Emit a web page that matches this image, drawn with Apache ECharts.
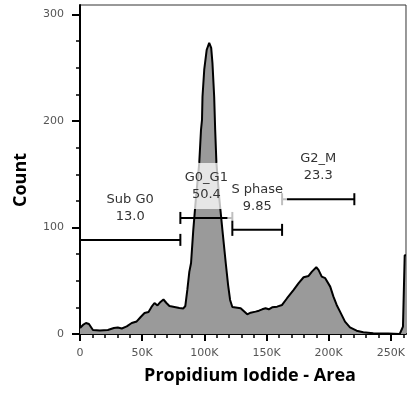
<!DOCTYPE html>
<html>
<head>
<meta charset="utf-8">
<script src="https://cdn.jsdelivr.net/npm/echarts@6/dist/echarts.min.js"></script>
<style>html,body{margin:0;padding:0;background:#fff;}#c{width:408px;height:394px;}</style>
</head>
<body>
<div id="c"></div>
<script>
// Histogram: Propidium Iodide - Area (in thousands) vs Count
const piArea = [0,2.4,4.8,7.2,10.4,16.0,22.4,27.2,30.4,33.6,37.6,41.6,45.6,48.8,51.9,55.1,57.5,59.9,62.3,64.7,67.1,69.5,71.9,75.9,79.9,83.1,84.7,86.3,87.9,89.3,91.1,93.3,95.9,97.3,98.1,98.5,99.9,101.9,103.9,105.5,106.5,107.9,108.7,109.7,111.9,114.5,117.2,119.1,120.7,122.5,123.9,129.2,130.5,134.5,137.2,141.2,143.9,146.5,149.2,151.8,154.5,158.5,162.5,166.5,171.8,175.8,179.8,183.8,186.5,190.0,191.8,194.4,197.2,198.4,201.2,203.8,206.4,209.1,213.1,217.1,222.4,227.8,235.8,247.8,257.1,259.7,261.1,262.144];
const counts = [5.6,8.5,10.3,9.4,3.8,3.3,3.8,5.6,6.1,5.2,7.1,10.3,11.8,16.0,19.7,20.7,25.4,29.1,26.8,30.1,32.4,29.1,26.3,25.4,24.4,24.0,26.3,41.4,58.3,66.7,97.8,128.8,160.7,191.8,201.2,222.8,248.2,267,273.5,268.8,254.7,222.8,191.8,160.7,128.8,97.8,66.7,46,32,25.4,24.2,24.2,22.6,18.5,20.0,21.0,21.9,23.2,24.2,23.2,25.1,25.7,27.3,33.6,41.4,47.7,53.3,54.5,58.6,62.7,60.2,53.9,52.4,50.8,44.5,35.1,27.3,21.0,11.6,6.3,3.1,1.6,0.7,0.5,0,6.9,74,74];

// Gates
const gateNames = ['Sub G0','G0_G1','S phase','G2_M'];
const gatePcts = ['13.0','50.4','9.85','23.3'];
const gateStart = [0, 80.7, 122.5, 162.5];
const gateEnd = [80.7, 122.5, 162.5, 220.6];
const gateLevel = [88.4, 109, 97.8, 126.6];

// Ticks
const xTicks = [0,50,100,150,200,250];
const yTicks = [0,100,200,300];
const xMax = 262.144;
const yMax = 309;

const histData = piArea.map((x,i)=>[x,counts[i]]);
const gateData = gateNames.map((n,i)=>[gateStart[i], gateEnd[i], gateLevel[i], i]);

const chart = echarts.init(document.getElementById('c'), null, {renderer:'canvas'});
const tickFont = {fontFamily:'DejaVu Sans', fontSize:11, color:'#555'};

chart.setOption({
  animation:false,
  grid:{left:80, right:0, top:5, bottom:60, show:true, borderColor:'#333', borderWidth:1},
  xAxis:{
    type:'value', min:0, max:xMax, interval:50,
    axisLine:{show:true, lineStyle:{color:'#000', width:2}},
    axisTick:{show:true, length:7, lineStyle:{color:'#000', width:2}, customValues:xTicks},
    minorTick:{show:true, splitNumber:5, length:4, lineStyle:{color:'#000', width:1.5}},
    axisLabel:Object.assign({margin:14, customValues:xTicks, formatter:v=> v===0 ? '0' : v+'K'}, tickFont),
    splitLine:{show:false}
  },
  yAxis:{
    type:'value', min:0, max:yMax, interval:100,
    axisLine:{show:true, lineStyle:{color:'#000', width:2}},
    axisTick:{show:true, length:8, lineStyle:{color:'#000', width:2}, customValues:yTicks},
    minorTick:{show:true, splitNumber:4, length:4, lineStyle:{color:'#000', width:1.5}},
    axisLabel:Object.assign({margin:16, customValues:yTicks}, tickFont),
    splitLine:{show:false}
  },
  series:[
    {
      type:'line', data:histData, smooth:false, showSymbol:false, z:2,
      lineStyle:{color:'#000', width:2},
      areaStyle:{color:'#9a9a9a', opacity:1}
    },
    {
      type:'custom', data:gateData, z:3, clip:false,
      renderItem:(params, api)=>{
        const p1 = api.coord([api.value(0), api.value(2)]);
        const p2 = api.coord([api.value(1), api.value(2)]);
        const st = {stroke:'#000', lineWidth:2};
        return {type:'group', children:[
          {type:'line', shape:{x1:p1[0], y1:p1[1], x2:p2[0], y2:p2[1]}, style:st},
          {type:'line', shape:{x1:p1[0], y1:p1[1]-6, x2:p1[0], y2:p1[1]+6}, style:st},
          {type:'line', shape:{x1:p2[0], y1:p2[1]-6, x2:p2[0], y2:p2[1]+6}, style:st}
        ]};
      }
    },
    {
      type:'custom', data:gateData, z:4, clip:false,
      renderItem:(params, api)=>{
        const i = api.value(3);
        const p1 = api.coord([api.value(0), api.value(2)]);
        const p2 = api.coord([api.value(1), api.value(2)]);
        return {type:'text', style:{
          text: gateNames[i] + '\n' + gatePcts[i],
          x:(p1[0]+p2[0])/2, y:p1[1]-32,
          align:'center', verticalAlign:'middle',
          fill:'#333', font:'13px "DejaVu Sans"', lineHeight:17,
          backgroundColor:'rgba(255,255,255,0.75)', padding:[5,4,7,4]
        }};
      }
    }
  ],
  graphic:[
    {type:'text', x:21, y:180, rotation:Math.PI/2, style:{text:'Count', font:'bold 18px "Open Sans"', fill:'#000', align:'center', verticalAlign:'middle'}},
    {type:'text', x:250, y:376, style:{text:'Propidium Iodide - Area', font:'bold 18px "Open Sans"', fill:'#000', align:'center', verticalAlign:'middle'}}
  ]
});
</script>
</body>
</html>
